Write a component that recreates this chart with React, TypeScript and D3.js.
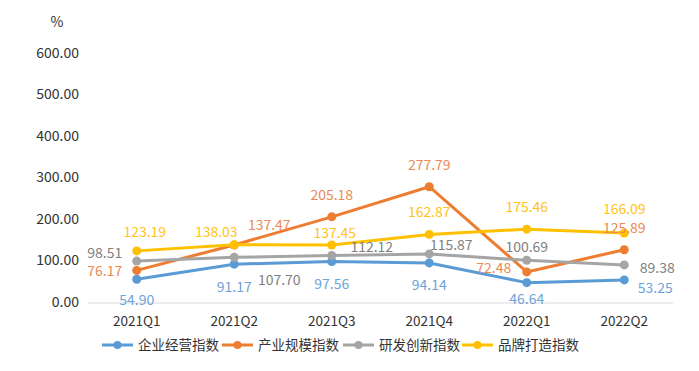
import React from 'react';
import * as d3 from 'd3';

const categories = ['2021Q1', '2021Q2', '2021Q3', '2021Q4', '2022Q1', '2022Q2'];
const yTicks = [0, 100, 200, 300, 400, 500, 600];

const seriesNames = ['企业经营指数', '产业规模指数', '研发创新指数', '品牌打造指数'];
const businessValues = [54.9, 91.17, 97.56, 94.14, 46.64, 53.25];
const scaleValues = [76.17, 137.47, 205.18, 277.79, 72.48, 125.89];
const rdValues = [98.51, 107.7, 112.12, 115.87, 100.69, 89.38];
const brandValues = [123.19, 138.03, 137.45, 162.87, 175.46, 166.09];

const colors = ['#5B9BD5', '#ED7D31', '#A5A5A5', '#FFC000'];
const labelColors = ['#6FA3D8', '#EB8A55', '#7F7F7F', '#FFC31A'];

// label offsets from each point (centre of text), by series
const labelOffsets: [number, number][][] = [
  [[0, 21], [0, 23], [0, 23], [0, 22], [0, 16], [31, 8]],
  [[-32, 1], [35, -20], [0, -22], [0, -22], [-33, -4], [0, -22]],
  [[-32, -8], [45, 23], [40, -8], [22, -9], [0, -13], [33, 3]],
  [[8, -19], [-18, -13], [3, -12], [0, -22], [0, -22], [0, -24]],
];

const W = 699;
const H = 371;
const FONT = '"Noto Sans CJK SC", "Microsoft YaHei", sans-serif';

export default function App() {
  const series = [businessValues, scaleValues, rdValues, brandValues];
  const x = d3.scaleBand<string>().domain(categories).range([88, 673]);
  const y = d3.scaleLinear().domain([0, 600]).range([302, 53]);
  const cx = (c: string) => (x(c) as number) + x.bandwidth() / 2;
  const line = d3
    .line<number>()
    .x((_, i) => cx(categories[i]))
    .y((d) => y(d));

  const legendX = [102, 222, 343, 462];

  return (
    <svg
      width={W}
      height={H}
      style={{ position: 'absolute', left: 0, top: 0, background: '#fff' }}
      fontFamily={FONT}
    >
      <text x={57} y={27} fontSize={14} fill="#333" textAnchor="middle">%</text>

      {yTicks.map((t) => (
        <text key={t} x={79} y={y(t)} dy="0.35em" fontSize={14} fill="#333" textAnchor="end">
          {t.toFixed(2)}
        </text>
      ))}

      <line x1={88} x2={673} y1={303} y2={303} stroke="#D9D9D9" strokeWidth={1} />

      {categories.map((c) => (
        <text key={c} x={cx(c)} y={321} dy="0.35em" fontSize={13.5} fill="#333" textAnchor="middle">
          {c}
        </text>
      ))}

      {series.map((vals, si) => (
        <g key={si}>
          <path d={line(vals) as string} fill="none" stroke={colors[si]} strokeWidth={3} strokeLinejoin="round" />
          {vals.map((v, i) => (
            <circle key={i} cx={cx(categories[i])} cy={y(v)} r={4.5} fill={colors[si]} />
          ))}
        </g>
      ))}

      {series.map((vals, si) => (
        <g key={'l' + si}>
          {vals.map((v, i) => (
            <text
              key={i}
              x={cx(categories[i]) + labelOffsets[si][i][0]}
              y={y(v) + labelOffsets[si][i][1]}
              dy="0.35em"
              fontSize={14}
              fill={labelColors[si]}
              textAnchor="middle"
            >
              {v.toFixed(2)}
            </text>
          ))}
        </g>
      ))}

      {seriesNames.map((name, si) => (
        <g key={name} transform={`translate(${legendX[si]},345)`}>
          <line x1={0} x2={31} y1={0} y2={0} stroke={colors[si]} strokeWidth={3} />
          <circle cx={15.5} cy={0} r={4} fill={colors[si]} />
          <text x={36} y={0} dy="0.35em" fontSize={13.5} fill="#333">{name}</text>
        </g>
      ))}
    </svg>
  );
}
